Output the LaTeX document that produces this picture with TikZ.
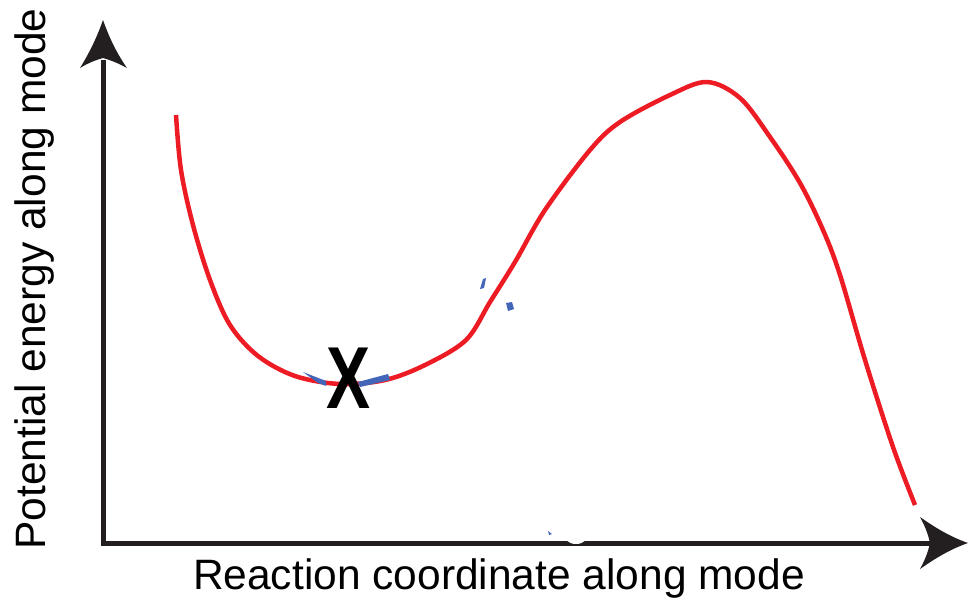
\documentclass[tikz,border=0pt]{standalone}
\usepackage{fontspec}
\setmainfont{Liberation Sans}
\definecolor{curvered}{RGB}{237,28,36}
\definecolor{fragblue}{RGB}{68,102,184}
\definecolor{axisblack}{RGB}{35,31,32}
\begin{document}
\begin{tikzpicture}[x=1pt,y=-1pt,
  axisline/.style={line width=5pt,draw=axisblack},
  arrowhead/.style={fill=axisblack,draw=none},
  energycurve/.style={line width=4.5pt,draw=curvered,line cap=butt},
  fragment/.style={fill=fragblue,draw=none},
  axislabel/.style={font=\fontsize{42.5}{45}\selectfont,text=black,inner sep=0pt}]
\useasboundingbox (0,0) rectangle (973,603);
% axes
\draw[axisline] (103,545) -- (103,60);
\draw[axisline] (101,543) -- (930,543);
\fill[arrowhead] (103,20) .. controls (110,40) and (118,55) .. (127,68)
  .. controls (118,63) and (110,60) .. (103,58)
  .. controls (96,60) and (88,63) .. (80,68)
  .. controls (88,55) and (96,40) .. (103,20) -- cycle;
\fill[arrowhead] (968,543) .. controls (948,550) and (933,560) .. (920,569)
  .. controls (925,560) and (928,552) .. (930,543)
  .. controls (928,534) and (925,526) .. (920,517)
  .. controls (933,526) and (948,536) .. (968,543) -- cycle;
% white notch on axis
\fill[white] (576,531) ellipse (14pt and 13pt);
\fill[fragblue] (548,531) -- (552,534) -- (549,535) -- cycle;
% curve
\draw[energycurve] plot[smooth,tension=0.55] coordinates {
 (176,115) (181,170) (193,225) (210,280) (230,325) (258,356) (295,376)
 (340,384) (385,380) (425,365) (466,340) (490,302) (515,262) (545,210)
 (590,150) (620,122) (670,95) (707,82) (740,98) (770,137) (800,183)
 (823,230) (840,275) (865,360) (893,447) (915,505)};
% blue fragments
\fill[fragment] (303,372) -- (326,381) -- (326,386) -- (318,383) -- cycle;
\fill[fragment] (358,382) -- (388,374) -- (390,380) -- (360,387) -- cycle;
\fill[fragment] (483,279) -- (486,278) -- (484,288) -- (480,289) -- cycle;
\fill[fragment] (506,303) -- (512,302) -- (514,309) -- (508,311) -- cycle;
% X marker
\node[inner sep=0pt,font=\fontsize{88}{88}\selectfont\bfseries] (xmark) at (349,378) {\scalebox{0.75}[1]{X}};
% labels
\node[axislabel] (xlabel) at (499,578) {Reaction coordinate along mode};
\node[axislabel,rotate=90] (ylabel) at (35,279) {Potential energy along mode};
\end{tikzpicture}
\end{document}
